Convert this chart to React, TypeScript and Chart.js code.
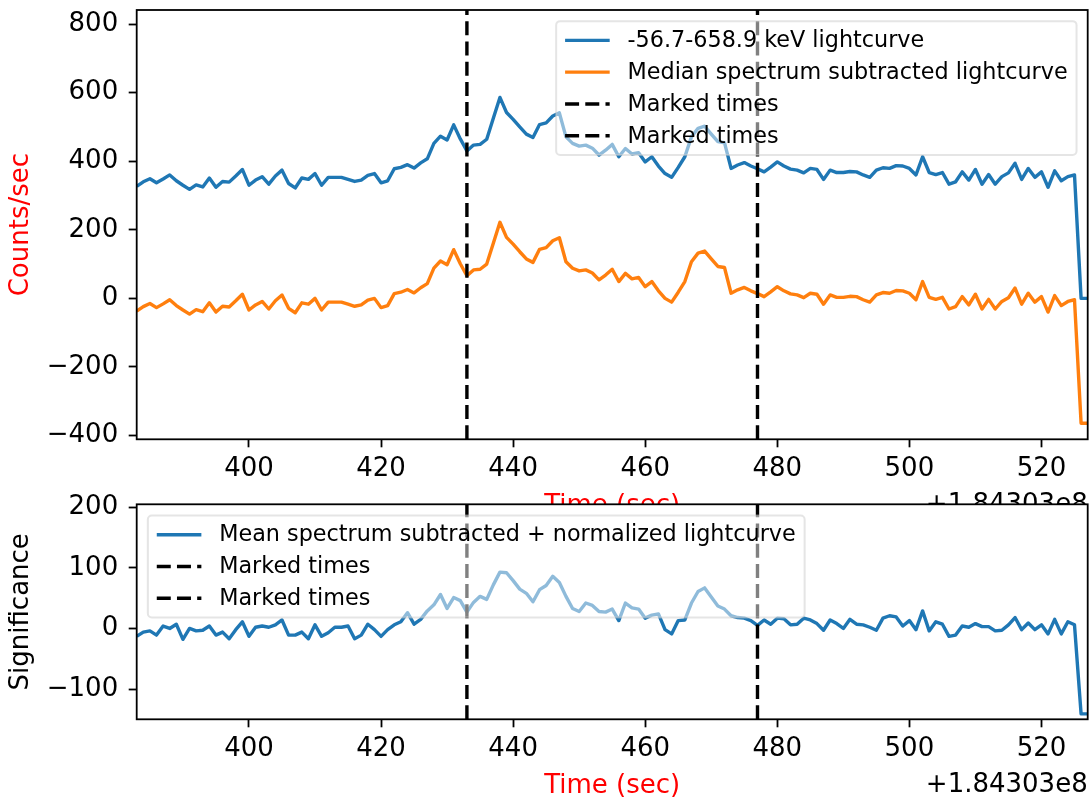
import React, { useEffect, useRef } from "react";
import { Chart, registerables } from "chart.js";

Chart.register(...registerables);

const FONT = "'DejaVu Sans', sans-serif";
const BLUE = "#1f77b4";
const ORANGE = "#ff7f0e";

// time bins (seconds, offset +1.84303e8)
const timeSec = [
  383, 384, 385, 386, 387, 388, 389, 390, 391, 392,
  393, 394, 395, 396, 397, 398, 399, 400, 401, 402,
  403, 404, 405, 406, 407, 408, 409, 410, 411, 412,
  413, 414, 415, 416, 417, 418, 419, 420, 421, 422,
  423, 424, 425, 426, 427, 428, 429, 430, 431, 432,
  433, 434, 435, 436, 437, 438, 439, 440, 441, 442,
  443, 444, 445, 446, 447, 448, 449, 450, 451, 452,
  453, 454, 455, 456, 457, 458, 459, 460, 461, 462,
  463, 464, 465, 466, 467, 468, 469, 470, 471, 472,
  473, 474, 475, 476, 477, 478, 479, 480, 481, 482,
  483, 484, 485, 486, 487, 488, 489, 490, 491, 492,
  493, 494, 495, 496, 497, 498, 499, 500, 501, 502,
  503, 504, 505, 506, 507, 508, 509, 510, 511, 512,
  513, 514, 515, 516, 517, 518, 519, 520, 521, 522,
  523, 524, 525, 526, 527,
];

const rawCounts = [
  327, 340, 349, 337, 348, 360, 343, 330, 318, 331,
  325, 351, 324, 341, 339, 357, 376, 330, 345, 355,
  333, 357, 374, 335, 322, 351, 347, 364, 330, 353,
  353, 353, 347, 341, 345, 359, 364, 337, 343, 378,
  382, 390, 380, 395, 407, 452, 473, 462, 506, 465,
  430, 447, 449, 464, 525, 586, 542, 522, 500, 479,
  469, 507, 512, 532, 541, 471, 452, 444, 447, 438,
  418, 432, 449, 413, 437, 421, 425, 398, 413, 386,
  364, 353, 382, 413, 471, 496, 502, 479, 457, 454,
  379, 389, 396, 386, 378, 369, 383, 398, 386, 377,
  374, 366, 379, 376, 347, 374, 367, 367, 370, 369,
  360, 353, 374, 381, 379, 387, 386, 379, 360, 413,
  367, 361, 367, 333, 340, 369, 345, 376, 333, 361,
  333, 355, 366, 394, 347, 379, 353, 369, 324, 372,
  343, 355, 360, 0, 0,
];

const medianSubtracted = [
  -37, -24, -15, -27, -16, -4, -21, -34, -46, -33,
  -39, -13, -40, -23, -25, -7, 12, -34, -19, -9,
  -31, -7, 10, -29, -42, -13, -17, 0, -34, -11,
  -11, -11, -17, -23, -19, -5, 0, -27, -21, 14,
  18, 26, 16, 31, 43, 88, 109, 98, 142, 101,
  66, 83, 85, 100, 161, 222, 178, 158, 136, 115,
  105, 143, 148, 168, 177, 107, 88, 80, 83, 74,
  54, 68, 85, 49, 73, 57, 61, 34, 49, 22,
  0, -11, 18, 49, 107, 132, 138, 115, 93, 90,
  15, 25, 32, 22, 14, 5, 19, 34, 22, 13,
  10, 2, 15, 12, -17, 10, 3, 3, 6, 5,
  -4, -11, 10, 17, 15, 23, 22, 15, -4, 49,
  3, -3, 3, -31, -24, 5, -19, 12, -31, -3,
  -31, -9, 2, 30, -17, 15, -11, 5, -40, 8,
  -21, -9, -4, -364, -364,
];

const significance = [
  -13, -6, -4, -11, 4, 0, 7, -18, 0, -4,
  -3, 4, -11, -6, -17, -2, 11, -13, 2, 4,
  2, 6, 14, -11, -11, -6, -17, 6, -13, -7,
  2, 2, 4, -17, -11, 7, -2, -13, -2, 6,
  11, 26, 7, 15, 29, 39, 56, 33, 51, 46,
  27, 43, 53, 48, 72, 93, 92, 79, 65, 58,
  44, 64, 71, 86, 76, 53, 33, 28, 42, 38,
  28, 27, 32, 13, 42, 34, 32, 17, 22, 24,
  -2, -9, 13, 14, 42, 61, 67, 52, 37, 32,
  21, 18, 17, 13, 5, 14, 7, 17, 16, 6,
  7, 17, 14, 8, -3, 14, 8, 0, 15, 7,
  6, 2, -3, 17, 21, 19, 4, 13, -2, 29,
  -4, 11, 7, -13, -11, 4, 2, 8, 3, 3,
  -4, -3, 6, 18, -2, 9, -2, 6, -9, 15,
  -9, 11, 6, -141, -141,
];

const markedTimes = [433, 477];
const xTicks = [400, 420, 440, 460, 480, 500, 520];
const topYTicks = [-400, -200, 0, 200, 400, 600, 800];
const bottomYTicks = [-100, 0, 100, 200];
const X_RANGE = [383, 527];
const TOP_Y_RANGE = [-411, 841];
const BOTTOM_Y_RANGE = [-150, 205];
const OFFSET_TEXT = "+1.84303e8";
const X_TITLE = "Time (sec)";
const TOP_Y_TITLE = "Counts/sec";
const BOTTOM_Y_TITLE = "Significance";
const TOP_LABELS = [
  "-56.7-658.9 keV lightcurve",
  "Median spectrum subtracted lightcurve",
  "Marked times",
  "Marked times",
];
const BOTTOM_LABELS = [
  "Mean spectrum subtracted + normalized lightcurve",
  "Marked times",
  "Marked times",
];

const DASH = [14, 6.2];
const LINE_W = 3.4;
const TICK_FS = 26;
const LEGEND_FS = 22.3;

type Area = { left: number; right: number; top: number; bottom: number };
type LegendRow = { label: string; color: string; dash: boolean };

type Spec = {
  canvasH: number;
  area: Area;
  yRange: number[];
  yTicks: number[];
  series: { data: number[]; color: string }[];
  yTitle: string;
  yTitleColor: string;
  legendLoc: "upper right" | "upper left";
  legendRows: LegendRow[];
  fillWhite: boolean;
};

const fmtTick = (v: number) => (v < 0 ? "\u2212" + Math.abs(v) : String(v));

function drawLegend(ctx: CanvasRenderingContext2D, area: any, spec: Spec) {
  const fs = LEGEND_FS;
  const pad = 0.4 * fs;
  const hl = 2 * fs;
  const htp = 0.8 * fs;
  const ls = 0.5 * fs;
  const bap = 0.5 * fs;
  const rowH = 0.925 * fs;
  const rows = spec.legendRows;
  ctx.save();
  ctx.font = `${fs}px ${FONT}`;
  const tw = Math.max(...rows.map((r) => ctx.measureText(r.label).width));
  const w = 2 * pad + hl + htp + tw;
  const h = 2 * pad + rows.length * rowH + (rows.length - 1) * ls;
  const x = spec.legendLoc === "upper right" ? area.right - bap - w : area.left + bap;
  const y = area.top + bap;
  ctx.beginPath();
  (ctx as any).roundRect(x, y, w, h, 4);
  ctx.fillStyle = "rgba(255,255,255,0.5)";
  ctx.fill();
  ctx.lineWidth = 2;
  ctx.strokeStyle = "rgba(204,204,204,0.5)";
  ctx.stroke();
  rows.forEach((r, k) => {
    const cy = y + pad + rowH / 2 + k * (rowH + ls);
    ctx.beginPath();
    ctx.setLineDash(r.dash ? DASH : []);
    ctx.lineWidth = LINE_W;
    ctx.strokeStyle = r.color;
    ctx.lineCap = "butt";
    ctx.moveTo(x + pad, cy);
    ctx.lineTo(x + pad + hl, cy);
    ctx.stroke();
    ctx.setLineDash([]);
    ctx.fillStyle = "#000";
    ctx.textAlign = "left";
    ctx.textBaseline = "middle";
    ctx.fillText(r.label, x + pad + hl + htp, cy + 1);
  });
  ctx.restore();
}

function makeConfig(spec: Spec): any {
  const { area, canvasH } = spec;
  const datasets: any[] = [];
  markedTimes.forEach((t) => {
    datasets.push({
      data: [
        { x: t, y: spec.yRange[0] },
        { x: t, y: spec.yRange[1] },
      ],
      borderColor: "#000",
      borderWidth: LINE_W,
      borderDash: DASH,
      pointRadius: 0,
      order: 0,
      clip: false,
    });
  });
  spec.series.forEach((s, k) => {
    datasets.push({
      data: timeSec.map((t, i) => ({ x: t, y: s.data[i] })),
      borderColor: s.color,
      borderWidth: LINE_W,
      pointRadius: 0,
      tension: 0,
      borderJoinStyle: "round",
      order: 10 - k,
    });
  });

  const decor = {
    id: "decor",
    beforeDraw(chart: any) {
      if (!spec.fillWhite) return;
      const a = chart.chartArea;
      const ctx = chart.ctx;
      ctx.save();
      ctx.fillStyle = "#fff";
      ctx.fillRect(a.left, a.top, a.right - a.left, a.bottom - a.top);
      ctx.restore();
    },
    afterDatasetsDraw(chart: any) {
      const a = chart.chartArea;
      const ctx = chart.ctx as CanvasRenderingContext2D;
      ctx.save();
      ctx.strokeStyle = "#000";
      ctx.lineWidth = 1.8;
      ctx.setLineDash([]);
      ctx.strokeRect(a.left, a.top, a.right - a.left, a.bottom - a.top);
      ctx.restore();
      drawLegend(ctx, a, spec);
    },
    afterDraw(chart: any) {
      const a = chart.chartArea;
      const ctx = chart.ctx as CanvasRenderingContext2D;
      ctx.save();
      ctx.font = `${TICK_FS}px ${FONT}`;
      // x title
      ctx.fillStyle = "#ff0000";
      ctx.textAlign = "center";
      ctx.textBaseline = "alphabetic";
      ctx.fillText(X_TITLE, (a.left + a.right) / 2, a.bottom + 73.7);
      // offset text
      ctx.fillStyle = "#000";
      ctx.textAlign = "right";
      ctx.fillText(OFFSET_TEXT, a.right, a.bottom + 72.5);
      // y title
      ctx.translate(27.5, (a.top + a.bottom) / 2);
      ctx.rotate(-Math.PI / 2);
      ctx.textAlign = "center";
      ctx.fillStyle = spec.yTitleColor;
      ctx.fillText(spec.yTitle, 0, 0);
      ctx.restore();
    },
  };

  const tickFont = { family: FONT, size: TICK_FS };
  const zeroPad = (s: any) => {
    s.paddingTop = 0;
    s.paddingBottom = 0;
    s.paddingLeft = 0;
    s.paddingRight = 0;
  };

  return {
    type: "line",
    data: { datasets },
    options: {
      responsive: false,
      maintainAspectRatio: false,
      animation: false,
      devicePixelRatio: 1,
      layout: {
        padding: { left: 0, top: area.top, right: 1091 - area.right, bottom: 0 },
      },
      plugins: { legend: { display: false }, tooltip: { enabled: false } },
      scales: {
        x: {
          type: "linear",
          min: X_RANGE[0],
          max: X_RANGE[1],
          afterBuildTicks: (s: any) => {
            s.ticks = xTicks.map((v) => ({ value: v }));
          },
          afterFit: (s: any) => {
            s.height = canvasH - area.bottom;
            zeroPad(s);
          },
          grid: {
            drawOnChartArea: false,
            drawTicks: true,
            tickLength: 8,
            tickWidth: 1.8,
            tickColor: "#000",
            color: "#000",
          },
          border: { display: false },
          ticks: {
            font: tickFont,
            color: "#000",
            padding: 6,
            maxRotation: 0,
            autoSkip: false,
            callback: (v: any) => fmtTick(Number(v)),
          },
        },
        y: {
          type: "linear",
          min: spec.yRange[0],
          max: spec.yRange[1],
          afterBuildTicks: (s: any) => {
            s.ticks = spec.yTicks.map((v) => ({ value: v }));
          },
          afterFit: (s: any) => {
            s.width = area.left;
            zeroPad(s);
          },
          grid: {
            drawOnChartArea: false,
            drawTicks: true,
            tickLength: 8,
            tickWidth: 1.8,
            tickColor: "#000",
            color: "#000",
          },
          border: { display: false },
          ticks: {
            font: tickFont,
            color: "#000",
            padding: 10.5,
            autoSkip: false,
            callback: (v: any) => fmtTick(Number(v)),
          },
        },
      },
    },
    plugins: [decor],
  };
}

const TOP_SPEC: Spec = {
  canvasH: 520,
  area: { left: 136.7, right: 1087.7, top: 10, bottom: 439.3 },
  yRange: TOP_Y_RANGE,
  yTicks: topYTicks,
  series: [
    { data: rawCounts, color: BLUE },
    { data: medianSubtracted, color: ORANGE },
  ],
  yTitle: TOP_Y_TITLE,
  yTitleColor: "#ff0000",
  legendLoc: "upper right",
  legendRows: [
    { label: TOP_LABELS[0], color: BLUE, dash: false },
    { label: TOP_LABELS[1], color: ORANGE, dash: false },
    { label: TOP_LABELS[2], color: "#000", dash: true },
    { label: TOP_LABELS[3], color: "#000", dash: true },
  ],
  fillWhite: false,
};

const BOTTOM_TOP = 480;
const BOTTOM_SPEC: Spec = {
  canvasH: 319,
  area: { left: 136.7, right: 1087.7, top: 504.3 - BOTTOM_TOP, bottom: 719.3 - BOTTOM_TOP },
  yRange: BOTTOM_Y_RANGE,
  yTicks: bottomYTicks,
  series: [{ data: significance, color: BLUE }],
  yTitle: BOTTOM_Y_TITLE,
  yTitleColor: "#000",
  legendLoc: "upper left",
  legendRows: [
    { label: BOTTOM_LABELS[0], color: BLUE, dash: false },
    { label: BOTTOM_LABELS[1], color: "#000", dash: true },
    { label: BOTTOM_LABELS[2], color: "#000", dash: true },
  ],
  fillWhite: true,
};

export default function App() {
  const topRef = useRef<HTMLCanvasElement>(null);
  const botRef = useRef<HTMLCanvasElement>(null);
  useEffect(() => {
    const c1 = new Chart(topRef.current as HTMLCanvasElement, makeConfig(TOP_SPEC));
    const c2 = new Chart(botRef.current as HTMLCanvasElement, makeConfig(BOTTOM_SPEC));
    return () => {
      c1.destroy();
      c2.destroy();
    };
  }, []);
  return (
    <div style={{ position: "absolute", left: 0, top: 0, width: 1091, height: 799, background: "#fff" }}>
      <canvas
        ref={topRef}
        width={1091}
        height={TOP_SPEC.canvasH}
        style={{ position: "absolute", left: 0, top: 0, width: 1091, height: TOP_SPEC.canvasH }}
      />
      <canvas
        ref={botRef}
        width={1091}
        height={BOTTOM_SPEC.canvasH}
        style={{ position: "absolute", left: 0, top: BOTTOM_TOP, width: 1091, height: BOTTOM_SPEC.canvasH }}
      />
    </div>
  );
}
